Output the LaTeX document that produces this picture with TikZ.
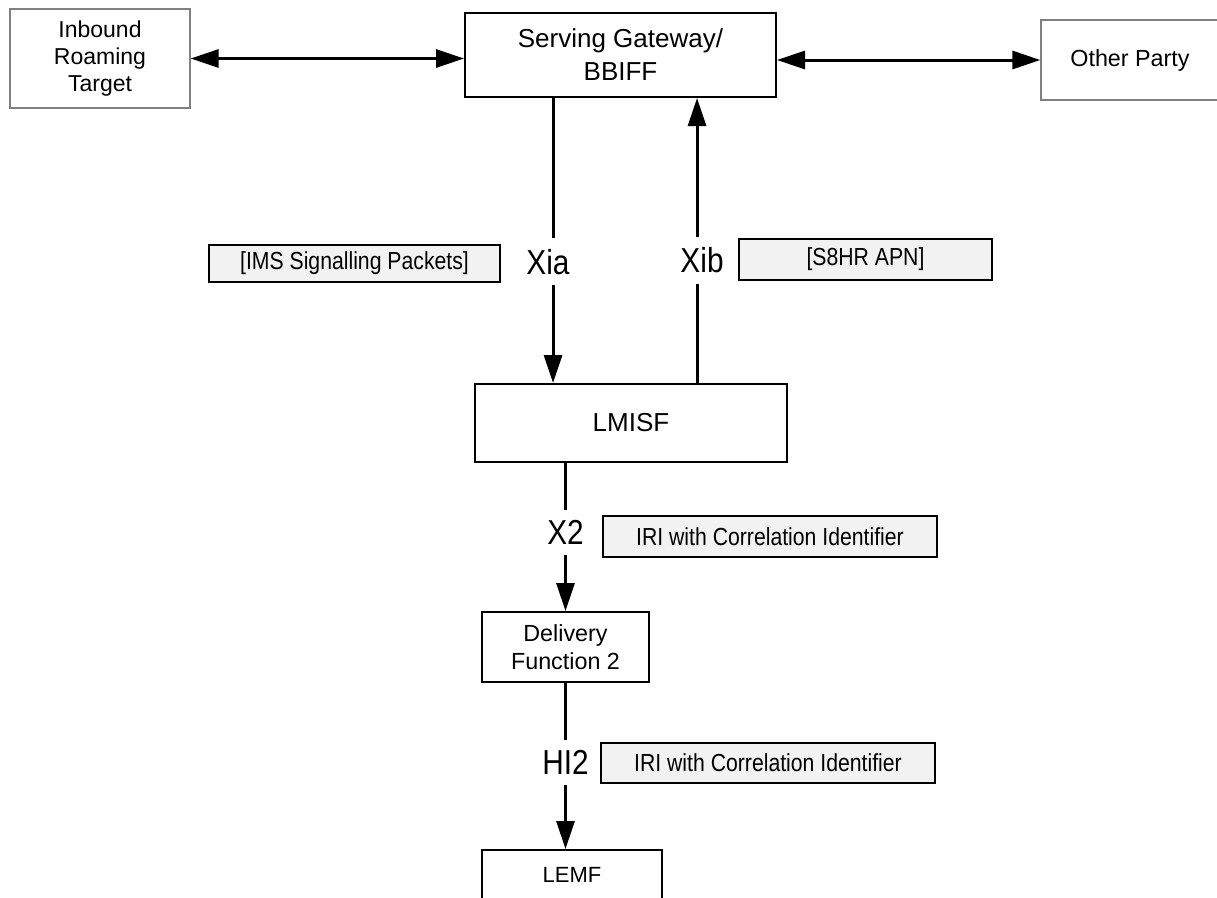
\documentclass[tikz,border=0pt]{standalone}
\usepackage{fontspec}
\setmainfont{Liberation Sans}
\newfontfamily\narrowsf[FakeStretch=0.86]{Liberation Sans}
\usetikzlibrary{arrows.meta}
\definecolor{peeredge}{HTML}{808080}
\definecolor{notefill}{HTML}{F2F2F2}

\begin{document}
\begin{tikzpicture}[
  x=0.75pt,
  y=-0.75pt,
  entity/.style={draw=black,line width=1.5pt,inner sep=0pt,align=center,font=\fontsize{18}{21}\selectfont},
  peer/.style={entity,draw=peeredge,line width=1pt},
  note/.style={draw=black,line width=1.2pt,fill=notefill,inner sep=0pt,font=\narrowsf\fontsize{18.5}{20}\selectfont},
  iface/.style={fill=white,inner xsep=2pt,inner ysep=8pt,font=\narrowsf\fontsize{26}{28}\selectfont},
  link/.style={draw=black,line width=2.25pt,-{Triangle[length=21pt,width=13.5pt]}},
  duplex/.style={draw=black,line width=2.25pt,{Triangle[length=21pt,width=13.5pt]}-{Triangle[length=21pt,width=13.5pt]}}
]
  % Page area, pixel units of the reference.
  \fill[white] (0,0) rectangle (1217,897);
  \useasboundingbox (0,0) rectangle (1217,897);

  % Network elements.
  \node[peer,minimum width=135pt,minimum height=74.25pt,font=\fontsize{17.25}{20.25}\selectfont] (irt) at (100,58.5) {Inbound\\Roaming\\Target};
  \node[entity,minimum width=233.25pt,minimum height=63pt,font=\fontsize{19.5}{24.75}\selectfont] (sgw) at (620.5,55) {Serving Gateway/\\BBIFF};
  \node[peer,minimum width=133.5pt,minimum height=60pt,font=\fontsize{17.5}{21}\selectfont] (op) at (1130,60) {Other Party};
  \node[entity,minimum width=234pt,minimum height=58.5pt,font=\fontsize{19.5}{23}\selectfont] (lmisf) at (631,423) {LMISF};
  \node[entity,minimum width=125.25pt,minimum height=52.5pt,font=\fontsize{17.5}{21}\selectfont] (df2) at (565.5,647) {Delivery\\Function 2};
  \node[entity,minimum width=135pt,minimum height=37.5pt,font=\fontsize{16.5}{20}\selectfont] (lemf) at (572,875) {LEMF};

  % Grey annotation boxes beside the interfaces.
  \node[note,minimum width=218.25pt,minimum height=27.75pt] (imsnote) at (354.5,263.5) {[IMS Signalling Packets]};
  \node[note,minimum width=189.75pt,minimum height=30.75pt] (apnnote) at (865.5,259.5) {[S8HR APN]};
  \node[note,minimum width=250.5pt,minimum height=30.75pt] (x2note) at (770,536.5) {IRI with Correlation Identifier};
  \node[note,minimum width=250.5pt,minimum height=30pt] (hi2note) at (768,763) {IRI with Correlation Identifier};

  % Traffic between the roaming target, the gateway and the other party.
  \draw[duplex] (irt.east) -- (sgw.west |- irt.east);
  \draw[duplex] (sgw.east |- op.west) -- (op.west);

  % Xi interfaces leave the gateway bottom at two points.
  \coordinate (xiatop) at ([xshift=-50.6pt]sgw.south);
  \coordinate (xibtop) at ([xshift=57.4pt]sgw.south);
  \draw[link] (xiatop) -- (xiatop |- lmisf.north) node[iface,pos=0.575,xshift=-3.75pt] (xia) {Xia};
  \draw[link] (xibtop |- lmisf.north) -- (xibtop) node[iface,pos=0.43,xshift=3.75pt] (xib) {Xib};

  % Handover chain down to the LEMF.
  \draw[link] (df2.north |- lmisf.south) -- (df2.north) node[iface,pos=0.47] (x2) {X2};
  \draw[link] (df2.south) -- (df2.south |- lemf.north) node[iface,pos=0.48] (hi2) {HI2};
\end{tikzpicture}
\end{document}
